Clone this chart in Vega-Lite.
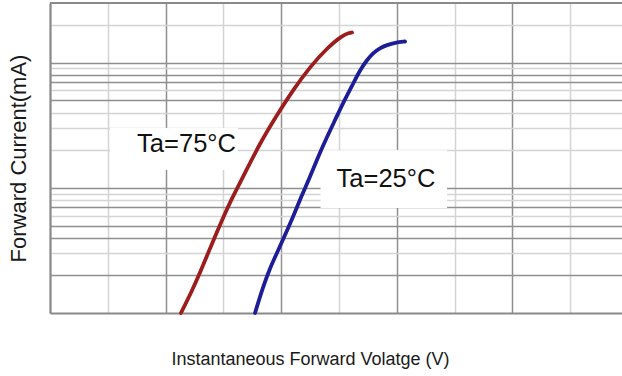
{
  "$schema": "https://vega.github.io/schema/vega-lite/v6.json",
  "width": 572,
  "height": 310,
  "autosize": "none",
  "padding": {"left": 50, "top": 3, "right": 0, "bottom": 63},
  "background": "white",
  "config": {
    "view": {"stroke": null},
    "font": "Liberation Sans"
  },
  "datasets": {
    "curves": [
      {"series": "Ta=75°C", "v": 2.266, "i": 1.0},
      {"series": "Ta=75°C", "v": 2.439, "i": 1.445},
      {"series": "Ta=75°C", "v": 2.595, "i": 2.087},
      {"series": "Ta=75°C", "v": 2.785, "i": 3.431},
      {"series": "Ta=75°C", "v": 2.976, "i": 5.536},
      {"series": "Ta=75°C", "v": 3.149, "i": 8.296},
      {"series": "Ta=75°C", "v": 3.339, "i": 12.21},
      {"series": "Ta=75°C", "v": 3.633, "i": 22.82},
      {"series": "Ta=75°C", "v": 3.927, "i": 38.2},
      {"series": "Ta=75°C", "v": 4.204, "i": 60.5},
      {"series": "Ta=75°C", "v": 4.498, "i": 92.4},
      {"series": "Ta=75°C", "v": 4.792, "i": 131.1},
      {"series": "Ta=75°C", "v": 5.069, "i": 166.5},
      {"series": "Ta=75°C", "v": 5.173, "i": 172.8},
      {"series": "Ta=75°C", "v": 5.225, "i": 174.4},
      {"series": "Ta=25°C", "v": 3.547, "i": 1.0},
      {"series": "Ta=25°C", "v": 3.685, "i": 1.613},
      {"series": "Ta=25°C", "v": 3.806, "i": 2.288},
      {"series": "Ta=25°C", "v": 3.927, "i": 3.016},
      {"series": "Ta=25°C", "v": 4.066, "i": 4.201},
      {"series": "Ta=25°C", "v": 4.204, "i": 5.85},
      {"series": "Ta=25°C", "v": 4.343, "i": 8.45},
      {"series": "Ta=25°C", "v": 4.498, "i": 12.21},
      {"series": "Ta=25°C", "v": 4.637, "i": 17.64},
      {"series": "Ta=25°C", "v": 4.792, "i": 25.5},
      {"series": "Ta=25°C", "v": 4.931, "i": 34.8},
      {"series": "Ta=25°C", "v": 5.069, "i": 47.6},
      {"series": "Ta=25°C", "v": 5.225, "i": 65.2},
      {"series": "Ta=25°C", "v": 5.363, "i": 87.4},
      {"series": "Ta=25°C", "v": 5.484, "i": 105.1},
      {"series": "Ta=25°C", "v": 5.588, "i": 119.6},
      {"series": "Ta=25°C", "v": 5.709, "i": 131.1},
      {"series": "Ta=25°C", "v": 5.83, "i": 138.5},
      {"series": "Ta=25°C", "v": 5.969, "i": 145.0},
      {"series": "Ta=25°C", "v": 6.142, "i": 147.7}
    ],
    "labels": [
      {"series": "Ta=75°C", "v": 2.362, "i": 19.34, "v1": 1.04, "v2": 3.25, "i1": 13.9, "i2": 30.1},
      {"series": "Ta=25°C", "v": 5.813, "i": 10.21, "v1": 4.68, "v2": 6.87, "i1": 6.9, "i2": 20.0}
    ]
  },
  "layer": [
    {
      "data": {"name": "labels"},
      "mark": {"type": "rect", "color": "white"},
      "encoding": {
        "x": {
          "field": "v1", "type": "quantitative",
          "scale": {"domain": [0, 9.896], "nice": false, "zero": false},
          "axis": {
            "title": "Instantaneous Forward Volatge (V)",
            "titleFontSize": 18, "titleFontWeight": "normal", "titleColor": "#1a1a1a",
            "titleX": 260, "titleY": 51, "titleBaseline": "alphabetic", "titleAnchor": null,
            "values": [0, 1, 2, 3, 4, 5, 6, 7, 8, 9],
            "labels": false, "ticks": false,
            "domainColor": "#8a8a8a", "domainWidth": 2,
            "grid": true,
            "gridColor": {"condition": {"test": "datum.value % 2 === 0", "value": "#8f8f8f"}, "value": "#d4d4d4"},
            "gridWidth": 1.5
          }
        },
        "x2": {"field": "v2"},
        "y": {
          "field": "i1", "type": "quantitative",
          "scale": {"type": "log", "domain": [1, 300], "nice": false},
          "axis": {
            "title": "Forward Current(mA)",
            "titleFontSize": 22, "titleFontWeight": "normal", "titleColor": "#1a1a1a",
            "titleX": -25, "titleY": 155, "titleBaseline": "alphabetic", "titleAngle": -90, "titleAlign": "center",
            "values": [2, 3, 4, 5, 6, 7, 8, 9, 10, 20, 30, 40, 50, 60, 70, 80, 90, 100, 200],
            "labels": false, "ticks": false,
            "domainColor": "#8a8a8a", "domainWidth": 2,
            "grid": true,
            "gridColor": {"condition": {"test": "indexof([2, 4, 5, 7, 10, 50, 70, 80, 100], datum.value) >= 0", "value": "#8f8f8f"}, "value": "#d4d4d4"},
            "gridWidth": 1.5
          }
        },
        "y2": {"field": "i2"}
      }
    },
    {
      "data": {"name": "curves"},
      "mark": {"type": "line", "interpolate": "basis", "strokeWidth": 3.8, "strokeCap": "round"},
      "encoding": {
        "x": {"field": "v", "type": "quantitative"},
        "y": {"field": "i", "type": "quantitative"},
        "color": {
          "field": "series", "type": "nominal",
          "scale": {"domain": ["Ta=75°C", "Ta=25°C"], "range": ["#9b1d1d", "#1d1d98"]},
          "legend": null
        }
      }
    },
    {
      "data": {"values": [{}]},
      "mark": {"type": "rule", "color": "#8a8a8a", "strokeWidth": 2},
      "encoding": {"y": {"datum": 300, "type": "quantitative"}}
    },
    {
      "data": {"name": "labels"},
      "mark": {"type": "text", "fontSize": 25.5, "color": "#111111", "align": "center", "baseline": "alphabetic"},
      "encoding": {
        "x": {"field": "v", "type": "quantitative"},
        "y": {"field": "i", "type": "quantitative"},
        "text": {"field": "series"}
      }
    }
  ]
}
